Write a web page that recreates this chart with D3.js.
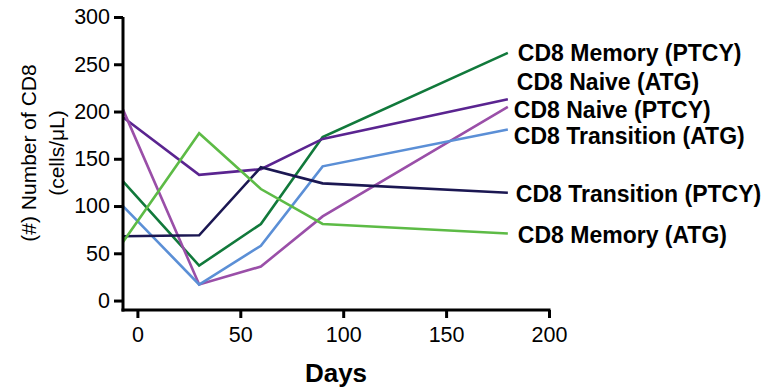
<!DOCTYPE html>
<html>
<head>
<meta charset="utf-8">
<script src="https://cdn.jsdelivr.net/npm/d3@7"></script>
<style>
  body { margin: 0; background: #fff; }
  text { font-family: "Liberation Sans", Arial, sans-serif; }
</style>
</head>
<body>
<svg id="chart" width="769" height="388"></svg>
<script>
// days of sampling
const days = [-7, 30, 60, 90, 180];

const memoryPTCY = [126, 37, 81, 173, 262];
const naiveATG = [194, 133, 139, 171, 213];
const naivePTCY = [202, 17, 36, 89, 205];
const transitionATG = [100, 17, 58, 142, 181];
const transitionPTCY = [68, 69, 141, 124, 114];
const memoryATG = [62, 177, 118, 81, 71];

const seriesNames = ["CD8 Memory (PTCY)", "CD8 Naive (ATG)", "CD8 Naive (PTCY)",
  "CD8 Transition (ATG)", "CD8 Transition (PTCY)", "CD8 Memory (ATG)"];
const seriesValues = [memoryPTCY, naiveATG, naivePTCY, transitionATG, transitionPTCY, memoryATG];
const seriesColors = ["#11793b", "#5a2490", "#9a4fa8", "#5b8fd6", "#1b1752", "#5dbb46"];
// label vertical positions in data units (labels are spread out like the original)
const labelY = [262, 231, 202, 174, 113, 69];

const xTicks = [0, 50, 100, 150, 200];
const yTicks = [0, 50, 100, 150, 200, 250, 300];

const svg = d3.select("#chart");
const margin = {left: 123, top: 17};
const g = svg.append("g").attr("transform", `translate(${margin.left},${margin.top})`);

const x = d3.scaleLinear().domain([-7, 200]).range([0, 426]);
const y = d3.scaleLinear().domain([-10, 300]).range([293, 0]);

const line = d3.line().x((d, i) => x(days[i])).y(d => y(d));

g.selectAll("path.series")
  .data(seriesValues)
  .join("path")
  .attr("class", "series")
  .attr("fill", "none")
  .attr("stroke", (d, i) => seriesColors[i])
  .attr("stroke-width", 2.6)
  .attr("d", line);

g.selectAll("text.lab")
  .data(seriesNames)
  .join("text")
  .attr("class", "lab")
  .attr("x", (d, i) => x(days[days.length - 1]) + [10, 9, 6, 6, 8, 10][i])
  .attr("y", (d, i) => y(labelY[i]))
  .attr("dy", "0.35em")
  .attr("font-size", 23)
  .attr("font-weight", "bold")
  .attr("fill", "#000")
  .text(d => d);

// axes
const xAxis = g.append("g").attr("transform", `translate(0,${y(-10)})`)
  .call(d3.axisBottom(x).tickValues(xTicks).tickSize(8).tickPadding(9).tickSizeOuter(0));
const yAxis = g.append("g")
  .call(d3.axisLeft(y).tickValues(yTicks).tickSize(9).tickPadding(4).tickSizeOuter(0));

[xAxis, yAxis].forEach(a => {
  a.select(".domain").attr("stroke", "#000").attr("stroke-width", 3);
  a.selectAll(".tick line").attr("stroke", "#000").attr("stroke-width", 3);
  a.selectAll(".tick text").attr("font-size", 21.5).attr("fill", "#000")
    .attr("font-family", "'Liberation Sans', Arial, sans-serif");
});
// the original x axis line extends slightly past the last tick
xAxis.select(".domain").attr("d", `M-1.5,0H${x(200) + 1.5}`);
yAxis.select(".domain").attr("d", `M0,0V${y(-10) + 1.5}`);

// titles
g.append("text")
  .attr("x", x(200) / 2 + x(-7) / 2)
  .attr("y", 365)
  .attr("text-anchor", "middle")
  .attr("font-size", 26)
  .attr("font-weight", "bold")
  .text("Days");

const yt = svg.append("text")
  .attr("transform", "translate(36,153) rotate(-90)")
  .attr("text-anchor", "middle")
  .attr("font-size", 21);
yt.append("tspan").attr("x", 0).attr("dy", 0).text("(#) Number of CD8");
yt.append("tspan").attr("x", 0).attr("dy", 28).text("(cells/μL)");
</script>
</body>
</html>
